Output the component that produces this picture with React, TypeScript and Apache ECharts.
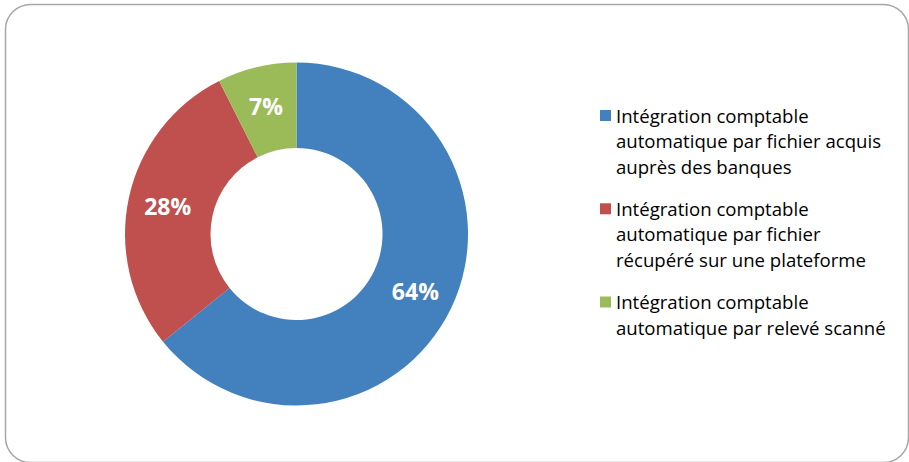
import React, { useEffect, useRef } from "react";
import * as echarts from "echarts";

const categories = [
  "Intégration comptable\nautomatique par fichier acquis\nauprès des banques",
  "Intégration comptable\nautomatique par fichier\nrécupéré sur une plateforme",
  "Intégration comptable\nautomatique par relevé scanné",
];
const values = [64.2, 28.35, 7.45];
const colors = ["#4380BE", "#C0504D", "#9BBB59"];

export default function App() {
  const ref = useRef<HTMLDivElement>(null);
  useEffect(() => {
    if (!ref.current) return;
    const chart = echarts.init(ref.current, null, { renderer: "svg" });
    const lineH = 25.5;
    const legendX = 600;
    const textX = 616;
    const firstLineCenter = [115, 208.3, 301.5];
    const graphics: any[] = [
      {
        type: "rect",
        shape: { x: 5.5, y: 4.5, width: 903, height: 458, r: 25 },
        style: { fill: "none", stroke: "#a6a6a6", lineWidth: 1.5 },
        silent: true,
      },
    ];
    categories.forEach((name, i) => {
      const n = name.split("\n").length;
      const c = firstLineCenter[i];
      graphics.push({
        type: "rect",
        shape: { x: legendX, y: c - 5, width: 11, height: 11 },
        style: { fill: colors[i] },
      });
      graphics.push({
        type: "text",
        x: textX,
        y: c + ((n - 1) * lineH) / 2,
        style: {
          text: name,
          fill: "#000",
          font: "18.6px 'Open Sans'",
          lineHeight: lineH,
          verticalAlign: "middle",
          align: "left",
        },
      });
    });
    chart.setOption({
      animation: false,
      graphic: graphics,
      series: [
        {
          type: "pie",
          center: [296.5, 234],
          radius: [86, 171.5],
          startAngle: 90,
          clockwise: true,
          avoidLabelOverlap: false,
          label: {
            show: true,
            position: "inside",
            formatter: (p: any) => Math.round(p.value) + "%",
            color: "#fff",
            fontFamily: "Open Sans",
            fontWeight: "bold",
            fontSize: 23,
          },
          labelLine: { show: false },
          itemStyle: { borderWidth: 0 },
          emphasis: { disabled: true },
          data: categories.map((name, i) => ({
            name,
            value: values[i],
            itemStyle: { color: colors[i] },
          })),
        },
      ],
    });
    return () => chart.dispose();
  }, []);
  return (
    <div
      ref={ref}
      style={{ position: "fixed", left: 0, top: 0, width: 909, height: 462, background: "#fff" }}
    />
  );
}
